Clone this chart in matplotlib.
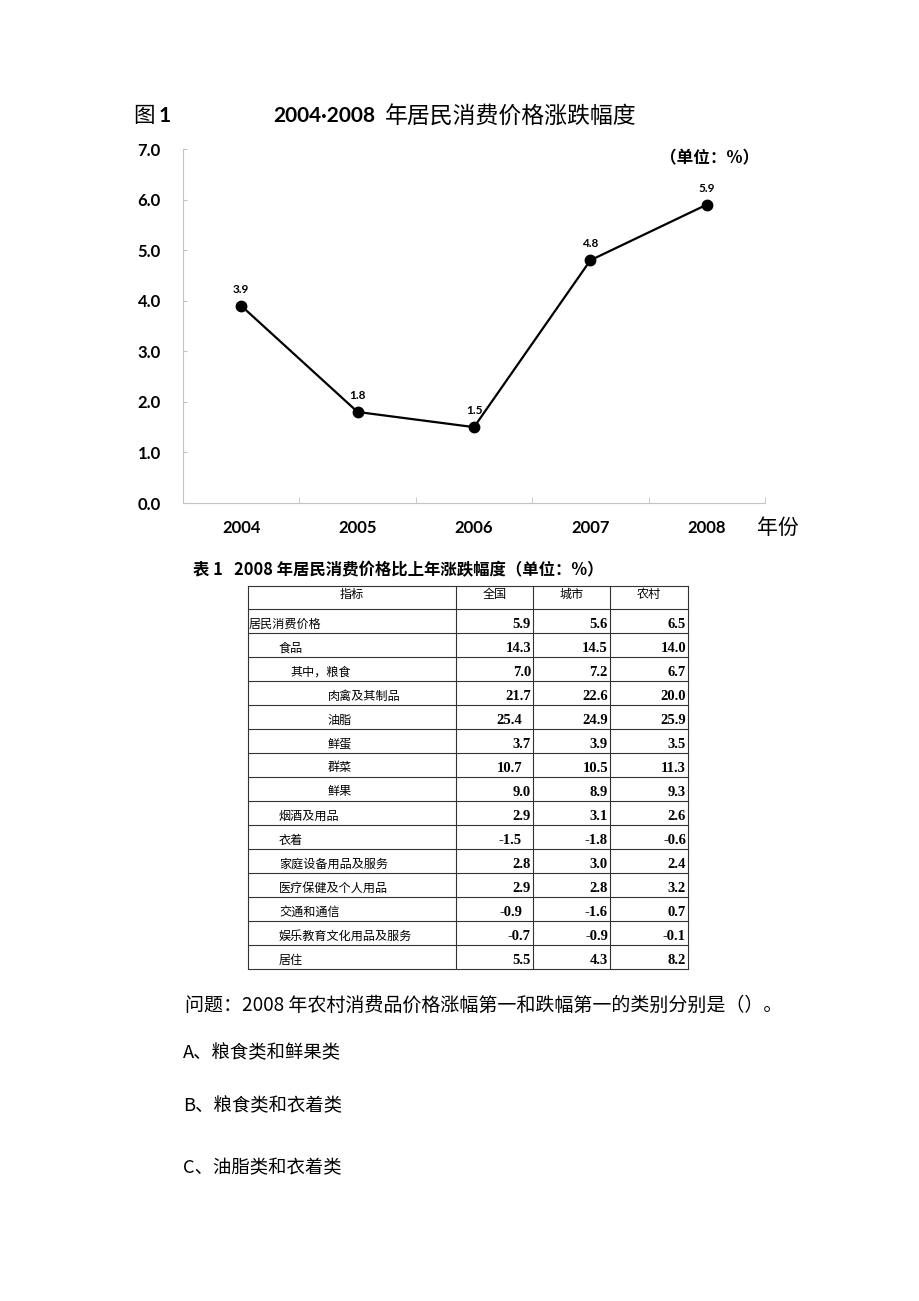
import matplotlib
matplotlib.use("Agg")
import matplotlib.pyplot as plt
from matplotlib.ticker import FormatStrFormatter

CJK = ['Noto Sans CJK SC', 'DejaVu Sans']

# chart data
years = ['2004', '2005', '2006', '2007', '2008']
cpi = [3.9, 1.8, 1.5, 4.8, 5.9]

# table data
items = ['居民消费价格', '食品', '其中，粮食', '肉禽及其制品', '油脂', '鲜蛋', '群菜', '鲜果',
         '烟酒及用品', '衣着', '家庭设备用品及服务', '医疗保健及个人用品', '交通和通信',
         '娱乐教育文化用品及服务', '居住']
indent = [0, 1, 2, 3, 3, 3, 3, 3, 1, 1, 1, 1, 1, 1, 1]
national = ['5.9', '14.3', '7.0', '21.7', '25.4', '3.7', '10.7', '9.0', '2.9', '-1.5', '2.8', '2.9', '-0.9', '-0.7', '5.5']
urban = ['5.6', '14.5', '7.2', '22.6', '24.9', '3.9', '10.5', '8.9', '3.1', '-1.8', '3.0', '2.8', '-1.6', '-0.9', '4.3']
rural = ['6.5', '14.0', '6.7', '20.0', '25.9', '3.5', '11.3', '9.3', '2.6', '-0.6', '2.4', '3.2', '0.7', '-0.1', '8.2']
headers = ['指标', '全国', '城市', '农村']

question = '问题：2008 年农村消费品价格涨幅第一和跌幅第一的类别分别是（）。'
options = ['A、粮食类和鲜果类', 'B、粮食类和衣着类', 'C、油脂类和衣着类']

W, H = 920, 1301
fig = plt.figure(figsize=(W / 100, H / 100), dpi=100)

# ---- line chart ----
ax = fig.add_axes([183 / W, 1 - 503 / H, (765 - 183) / W, (503 - 149) / H])
xs = [i + 0.5 for i in range(len(years))]
ax.plot(xs, cpi, color='black', lw=1.6, marker='o', ms=7.5, zorder=3)
for x, v in zip(xs, cpi):
    ax.annotate(f'{v:.1f}', (x, v), xytext=(0, 8), textcoords='offset points',
                ha='center', va='bottom', fontsize=8.5, fontweight='bold', family='Lato')
ax.set_xlim(0, 5)
ax.set_ylim(0, 7)
ax.set_xticks(xs)
ax.set_xticklabels(years)
ax.set_xticks(range(1, 6), minor=True)
ax.set_yticks(range(0, 8))
ax.yaxis.set_major_formatter(FormatStrFormatter('%.1f'))
for s in ['top', 'right']:
    ax.spines[s].set_visible(False)
for s in ['left', 'bottom']:
    ax.spines[s].set_color('#c4c4c4')
    ax.spines[s].set_linewidth(0.8)
ax.tick_params(axis='x', which='major', length=0, pad=12)
ax.tick_params(axis='x', which='minor', direction='in', length=4, color='#c4c4c4')
ax.tick_params(axis='y', direction='in', length=3, color='#c4c4c4', pad=16)
for lab in ax.get_xticklabels() + ax.get_yticklabels():
    lab.set_fontweight('bold')
    lab.set_family('Lato')
    lab.set_fontsize(12)

fig.text(778 / W, 1 - 528 / H, '年份', ha='center', va='center', fontsize=15, family=CJK)
fig.text(759 / W, 1 - 158 / H, '（单位：%）', ha='right', va='center', fontsize=12,
         fontweight='bold', family=CJK)

# title pieces
renderer = fig.canvas.get_renderer()
t1 = fig.text(133 / W, 1 - 116 / H, '图', ha='left', va='center', fontsize=15.5, family=CJK)
bb = t1.get_window_extent(renderer)
fig.text((bb.x1 + 4) / W, 1 - 116 / H, '1', ha='left', va='center', fontsize=15,
         fontweight='bold', family='Lato')
t2 = fig.text(273 / W, 1 - 116 / H, '2004·2008', ha='left', va='center', fontsize=15,
              fontweight='bold', family=['Lato', 'Noto Sans CJK SC'])
bb = t2.get_window_extent(renderer)
fig.text((bb.x1 + 10) / W, 1 - 116 / H, '年居民消费价格涨跌幅度', ha='left', va='center',
         fontsize=16.5, family=CJK)

# ---- table (pixel overlay) ----
ov = fig.add_axes([0, 0, 1, 1])
ov.set_xlim(0, W)
ov.set_ylim(H, 0)
ov.axis('off')

ov.text(193, 570, '表 1   2008 年居民消费价格比上年涨跌幅度（单位：%）', ha='left', va='center',
        fontsize=11.8, fontweight='bold', family=CJK)

col_x = [248, 456, 533, 610, 688]
top = 586
head_h = 23
row_h = 24
n = len(items)
row_y = [top] + [top + head_h + row_h * i for i in range(n + 1)]
lc = '#333333'
for y in row_y:
    ov.plot([col_x[0], col_x[-1]], [y, y], color=lc, lw=0.8)
for x in col_x:
    ov.plot([x, x], [row_y[0], row_y[-1]], color=lc, lw=0.8)

for j, h in enumerate(headers):
    ov.text((col_x[j] + col_x[j + 1]) / 2, top + 2, h, ha='center', va='top',
            fontsize=8.7, family=CJK)

indent_px = [1, 31, 42, 80]
shifted = {('n', 4), ('n', 6), ('n', 9), ('n', 12)}
for i in range(n):
    yc = (row_y[i + 1] + row_y[i + 2]) / 2 + 3
    ov.text(col_x[0] + indent_px[indent[i]], yc, items[i], ha='left', va='center',
            fontsize=8.7, family=CJK)
    for k, (key, col) in enumerate([('n', national), ('u', urban), ('r', rural)]):
        xr = col_x[k + 2] - 2
        if (key, i) in shifted:
            xr -= 9
        ov.text(xr, yc, col[i], ha='right', va='center', fontsize=10.5,
                fontweight='bold', family='Liberation Serif')

# ---- question ----
ov.text(185, 1005, question, ha='left', va='center', fontsize=13.7, family=CJK)
opt_y = [1053, 1106, 1168]
for y, o in zip(opt_y, options):
    ov.text(183, y, o, ha='left', va='center', fontsize=13.2, family=CJK)

fig.savefig('out.png', dpi=100, facecolor='white')
